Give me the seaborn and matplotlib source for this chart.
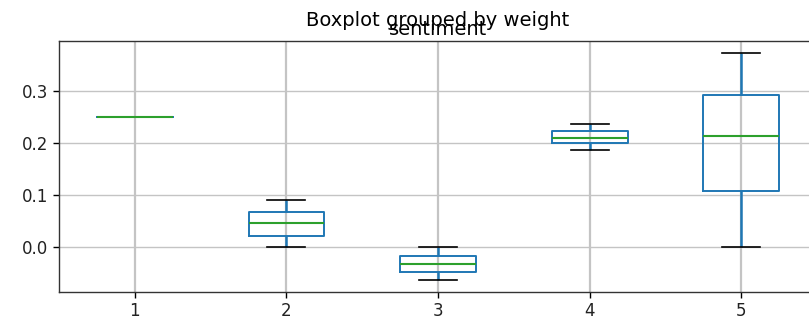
import matplotlib
matplotlib.use("Agg")
import matplotlib.pyplot as plt
import numpy as np
import pandas as pd
import seaborn as sns

# sentiment scores per weight group
weights = [1, 2, 3, 4, 5]
sentiment_w1 = [0.25]
sentiment_w2 = [0.000, 0.021, 0.046, 0.067, 0.090]
sentiment_w3 = [-0.063, -0.048, -0.033, -0.017, 0.000]
sentiment_w4 = [0.187, 0.200, 0.210, 0.223, 0.237]
sentiment_w5 = [0.000, 0.108, 0.213, 0.292, 0.373]

groups = [sentiment_w1, sentiment_w2, sentiment_w3, sentiment_w4, sentiment_w5]
df = pd.DataFrame({
    "weight": np.concatenate([[w] * len(g) for w, g in zip(weights, groups)]),
    "sentiment": np.concatenate(groups),
})

plt.rcParams["font.family"] = ["DejaVu Sans"]

fig = plt.figure(figsize=(8.09, 3.24), dpi=100)
ax = fig.add_axes([59 / 809, 1 - 292 / 324, 758 / 809, 251 / 324])

blue = "#1f77b4"
green = "#2ca02c"
sns.boxplot(
    data=df, x="weight", y="sentiment", order=weights, ax=ax,
    width=0.5, fill=False, color=blue, linewidth=1.4, whis=1.5,
    boxprops=dict(color=blue, zorder=3),
    whiskerprops=dict(color=blue, linewidth=1.8, zorder=3),
    capprops=dict(color="black", linewidth=1.2, zorder=3),
    medianprops=dict(color=green, linewidth=1.5, zorder=4),
    showfliers=True,
)

ax.set_ylim(-0.0865, 0.396)
ax.set_yticks([0.0, 0.1, 0.2, 0.3])
ax.set_yticklabels(["0.0", "0.1", "0.2", "0.3"])
ax.set_xticks(range(len(weights)))
ax.set_xticklabels([str(w) for w in weights])
ax.tick_params(labelsize=12, length=4, width=1, labelcolor="#222222")
ax.xaxis.grid(True, color="#c4c4c4", linewidth=1.6, zorder=0)
ax.yaxis.grid(True, color="#c4c4c4", linewidth=1.0, zorder=0)
ax.set_axisbelow(True)
for s in ax.spines.values():
    s.set_color("#333333")
    s.set_linewidth(1.0)

ax.set_ylabel("")
ax.set_xlabel("weight", fontsize=12, labelpad=4)
ax.set_title("sentiment", fontsize=14, pad=4)
fig.text((59 + 817) / 2 / 809, 1 - 20 / 324, "Boxplot grouped by weight",
         ha="center", va="center", fontsize=14)

fig.savefig("out.png", dpi=100)
